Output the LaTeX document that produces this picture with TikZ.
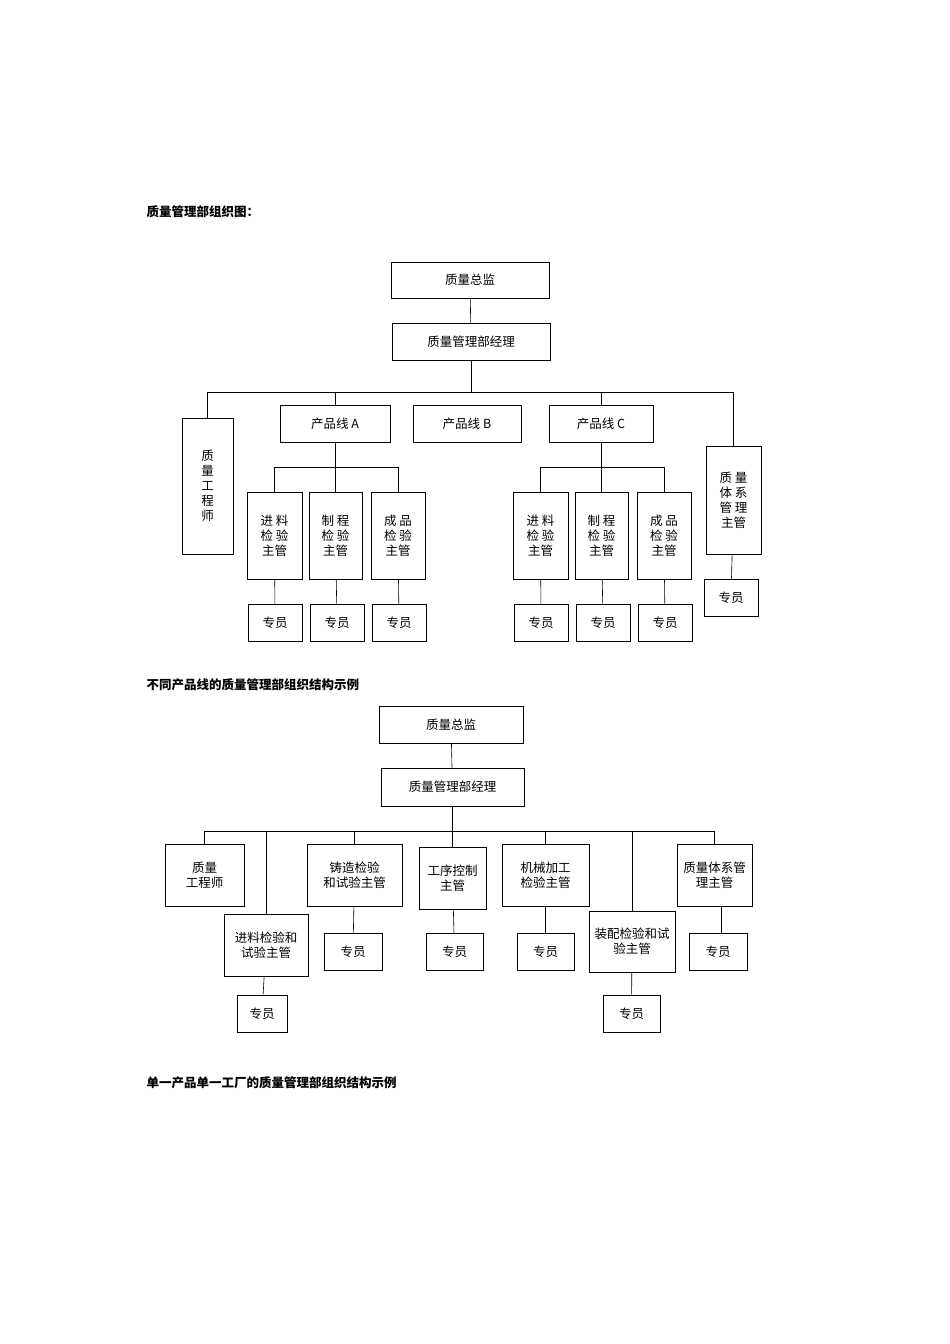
\documentclass[tikz,border=0pt]{standalone}
\usepackage{fontspec}
\setmainfont{Noto Sans CJK SC}
\usetikzlibrary{calc}
\tikzset{
  unit/.style={draw, semithick, inner sep=1pt, align=center, font=\fontsize{12.5}{15}\selectfont},
  link/.style={semithick},
  heading/.style={anchor=west, font=\fontsize{12.5}{15}\selectfont\bfseries}
}
% box from corner (x1,y1) to corner (x2,y2)
\newcommand{\orgbox}[6]{%
  \node[unit, minimum width={((#4)-(#2))*1pt}, minimum height={((#5)-(#3))*1pt}]
    (#1) at ({((#2)+(#4))/2},{((#3)+(#5))/2}) {#6};}
\begin{document}
\begin{tikzpicture}[x=1pt,y=-1pt]
  \useasboundingbox (0,0) rectangle (950,1344);
  \node[heading] (t1) at (143,212) {质量管理部组织图：};
  \node[heading] (t2) at (143,685) {不同产品线的质量管理部组织结构示例};
  \node[heading] (t3) at (143,1083) {单一产品单一工厂的质量管理部组织结构示例};

  % first chart
  \orgbox{dir}{391}{262}{549}{298}{质量总监}
  \orgbox{mgr}{392}{323}{550}{360}{质量管理部经理}
  \orgbox{qe}{182}{418}{233}{554}{质\\量\\工\\程\\师}
  \orgbox{pa}{280}{405}{390}{442}{产品线 A}
  \orgbox{pb}{413}{405}{521}{442}{产品线 B}
  \orgbox{pc}{549}{405}{653}{442}{产品线 C}
  \orgbox{qs}{706}{446}{761}{554}{质 量\\体 系\\管 理\\主管}
  \orgbox{qsz}{704}{579}{758}{616}{专员}
  \draw[link] (dir) -- (mgr);
  \draw[link] (mgr.south) -- ++(0,32) coordinate (bus1);
  \foreach \n in {qe,pa,pc,qs} \draw[link] (\n.north) |- (bus1);
  \draw[link] (qs) -- (qsz);
  \foreach \p/\xa in {a/247,c/513} {
    \orgbox{\p1}{\xa}{492}{\xa+55}{579}{进 料\\检 验\\主管}
    \orgbox{\p2}{\xa+62}{492}{\xa+115}{579}{制 程\\检 验\\主管}
    \orgbox{\p3}{\xa+124}{492}{\xa+178}{579}{成 品\\检 验\\主管}
    \draw[link] (p\p.south) -- ++(0,25) coordinate (hub\p);
    \foreach \i in {1,2,3} {
      \draw[link] (\p\i.north) |- (hub\p);
      \orgbox{\p z\i}{\xa+62*\i-61}{604}{\xa+62*\i-7}{641}{专员}
      \draw[link] (\p\i) -- (\p z\i);
    }
  }

  % second chart
  \orgbox{dir2}{379}{706}{523}{743}{质量总监}
  \orgbox{mgr2}{381}{768}{524}{806}{质量管理部经理}
  \orgbox{qe2}{165}{844}{244}{906}{质量\\工程师}
  \orgbox{inc}{224}{914}{308}{976}{进料检验和\\试验主管}
  \orgbox{cast}{307}{844}{402}{906}{铸造检验\\和试验主管}
  \orgbox{proc}{419}{847}{486}{909}{工序控制\\主管}
  \orgbox{mach}{502}{844}{589}{906}{机械加工\\检验主管}
  \orgbox{asm}{589}{911}{675}{972}{装配检验和试\\验主管}
  \orgbox{qs2}{677}{844}{752}{906}{质量体系管\\理主管}
  \orgbox{incz}{237}{995}{287}{1032}{专员}
  \orgbox{castz}{324}{933}{382}{970}{专员}
  \orgbox{procz}{426}{933}{483}{970}{专员}
  \orgbox{machz}{517}{933}{574}{970}{专员}
  \orgbox{asmz}{603}{995}{660}{1032}{专员}
  \orgbox{qs2z}{689}{933}{747}{970}{专员}
  \draw[link] (dir2) -- (mgr2);
  \draw[link] (mgr2.south) -- ++(0,25) coordinate (bus2);
  \foreach \n in {qe2,inc,cast,proc,mach,asm,qs2} \draw[link] (\n.north) |- (bus2);
  \foreach \n in {inc,cast,proc,mach,asm} \draw[link] (\n) -- (\n z);
  \draw[link] (qs2z.north -| 721,0) -- (721,906);
\end{tikzpicture}
\end{document}
